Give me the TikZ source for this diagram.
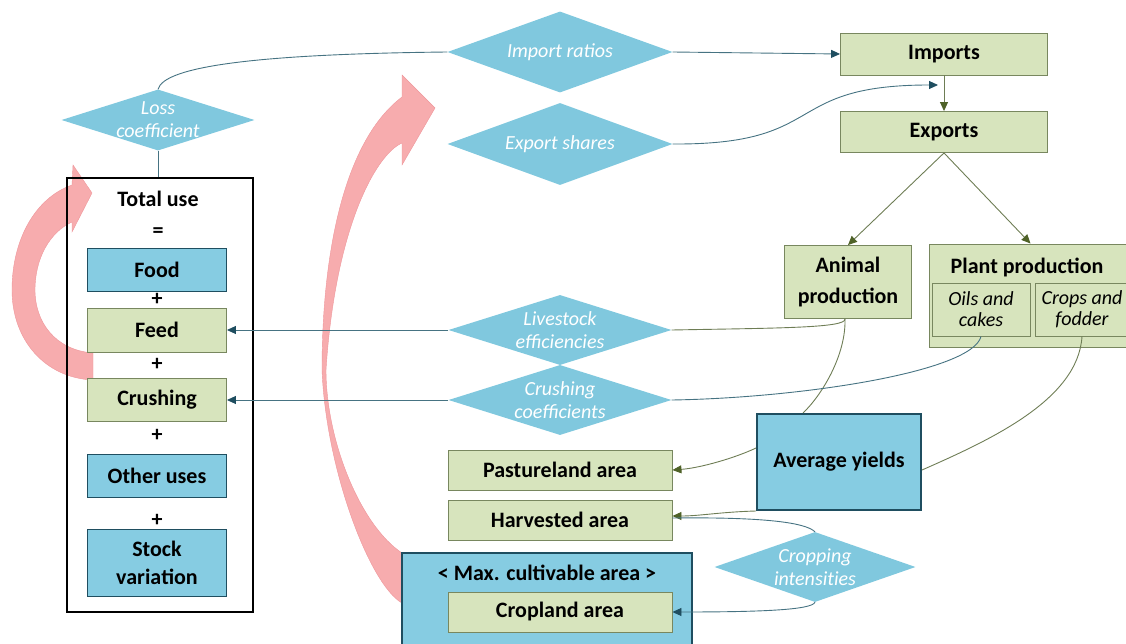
\documentclass[tikz,border=0pt]{standalone}
\usepackage{fontspec}
\setmainfont{Carlito}
\usetikzlibrary{shapes.geometric,arrows.meta}
\definecolor{dfill}{RGB}{128,200,222}
\definecolor{bfill}{RGB}{134,204,226}
\definecolor{bline}{RGB}{31,78,96}
\definecolor{gfill}{RGB}{215,228,189}
\definecolor{gline}{RGB}{120,135,95}
\definecolor{cline}{RGB}{70,115,130}
\definecolor{carrow}{RGB}{31,78,96}
\definecolor{oline}{RGB}{110,125,85}
\definecolor{oarrow}{RGB}{79,98,40}
\definecolor{pinkc}{RGB}{247,172,174}
\definecolor{pinkd}{RGB}{238,150,155}
\newcommand{\nolig}{\kern0pt}
\tikzset{
  gbox/.style={draw=gline, fill=gfill, line width=0.9pt, inner sep=0pt, align=center, font=\bfseries\fontsize{22}{29}\selectfont},
  bbox/.style={draw=bline, fill=bfill, line width=1.4pt, inner sep=0pt, align=center, font=\bfseries\fontsize{22}{28}\selectfont},
  ibox/.style={draw=gline, fill=gfill, line width=0.9pt, inner sep=0pt, align=center, font=\itshape\fontsize{20}{21}\selectfont},
  dia/.style={shape=diamond, fill=dfill, draw=none, inner sep=0pt},
  dtxt/.style={text=white, inner sep=0pt, align=center, font=\itshape\fontsize{20}{23}\selectfont},
  plain/.style={inner sep=0pt, align=center, font=\bfseries\fontsize{22}{28}\selectfont},
  bcon/.style={draw=cline, line width=0.9pt},
  barr/.style={bcon, -{Triangle[length=9pt,width=8pt,color=carrow]}},
  ocon/.style={draw=oline, line width=0.9pt},
  oarr/.style={ocon, -{Triangle[length=9pt,width=8pt,color=oarrow]}},
  pinkarrow/.style={fill=pinkc, draw=pinkd, line width=0.4pt},
}
\begin{document}
\begin{tikzpicture}[x=1pt,y=-1pt]
\useasboundingbox (0,0) rectangle (1126,644);

% pink arrows (background)
\path[pinkarrow] (93,380) -- (93,353) .. controls (55,350) and (35,322) .. (35,290)
  .. controls (35,258) and (50,232) .. (72,222) -- (72,232) -- (92,193) -- (73,165) -- (72,185)
  .. controls (35,198) and (12,240) .. (12,290) .. controls (12,340) and (45,378) .. (93,380) -- cycle;
\path[pinkarrow] (402,603) .. controls (370,585) and (326,470) .. (322,370)
  .. controls (322,250) and (345,140) .. (402,97) -- (402,75) -- (435,108) -- (402,165) -- (402,143)
  .. controls (375,155) and (335,230) .. (326,370)
  .. controls (326,440) and (360,525) .. (402,553) -- cycle;

% left column
\node[draw=black, line width=1.5pt, minimum width=186pt, minimum height=434pt, inner sep=0pt] (tot) at (160,395) {};
\node[plain] (totl) at (158,199) {Total use};
\node[plain] (eq) at (158,233) {=};
\node[bbox, minimum width=139pt, minimum height=43pt] (food) at (157,270) {Food};
\node[plain] (p1) at (157,299) {+};
\node[gbox, minimum width=139pt, minimum height=44pt] (feed) at (157,330) {Feed};
\node[plain] (p2) at (157,364) {+};
\node[gbox, minimum width=139pt, minimum height=43pt] (crush) at (157,400) {Crushing};
\node[plain] (p3) at (157,435) {+};
\node[bbox, minimum width=139pt, minimum height=43pt] (other) at (157,476) {Other uses};
\node[plain] (p4) at (157,520) {+};
\node[bbox, minimum width=139pt, minimum height=67pt] (stock) at (157,563) {Stock\\varia\nolig tion};

% diamonds
\node[dia, minimum width=193pt, minimum height=61pt] (loss) at (158,120) {};
\node[dtxt] (losst) at (loss) {Loss\\coefficient};
\node[dia, minimum width=225pt, minimum height=81pt] (ir) at (560,52) {};
\node[dtxt] (irt) at (ir) {Import ratios};
\node[dia, minimum width=225pt, minimum height=82pt] (es) at (560,144) {};
\node[dtxt] (est) at (es) {Export shares};
\node[dia, minimum width=223pt, minimum height=70pt] (ls) at (560,330) {};
\node[dtxt] (lst) at (ls) {Livestock\\efficiencies};
\node[dia, minimum width=223pt, minimum height=70pt] (cc) at (560,400) {};
\node[dtxt] (cct) at (cc) {Crushing\\coefficients};
\node[dia, minimum width=201pt, minimum height=70pt] (ci) at (815,567) {};
\node[dtxt] (cit) at (ci) {Cropping\\intensit\nolig ies};

% right boxes
\node[gbox, minimum width=207pt, minimum height=42pt] (imp) at (944,54) {Imports};
\node[gbox, minimum width=207pt, minimum height=41pt] (exp) at (944,132) {Exports};
\node[gbox, minimum width=127pt, minimum height=73pt, font=\bfseries\fontsize{22}{31}\selectfont] (an) at (848,282) {Animal\\produc\nolig tion};
\node[gbox, minimum width=203pt, minimum height=103pt] (pl) at (1030.5,295.5) {};
\node[plain] (plt) at (1027,267) {Plant produc\nolig tion};
\node[ibox, minimum width=98pt, minimum height=53pt] (oils) at (981,309.5) {Oils and\\cakes};
\node[ibox, minimum width=94pt, minimum height=53pt] (crops) at (1082,309.5) {Crops and\\fodder};
\node[bbox, line width=2pt, minimum width=164pt, minimum height=96pt] (ay) at (839,462) {Average yields};
\node[gbox, minimum width=224pt, minimum height=40pt] (pas) at (560,470) {Pastureland area};
\node[gbox, minimum width=224pt, minimum height=40pt] (harv) at (560,520) {Harvested area};
\node[bbox, minimum width=290pt, minimum height=107pt] (max) at (547,606.5) {};
\node[plain] (maxt) at (547,573) {< Max. cultivable area >};
\node[gbox, minimum width=224pt, minimum height=40pt] (crop) at (560,612) {Cropland area};

% connectors
\coordinate (ex1) at (938,85);
\draw[bcon] (loss.north) .. controls (164,66) and (260,54) .. (ir.west);
\draw[bcon] (loss.south) -- (loss.south |- tot.north);
\draw[barr] (ir.east) -- (imp.west);
\draw[barr] (es.east) .. controls (830,145) and (780,85) .. (ex1);
\draw[oarr] (imp.south) -- (exp.north);
\draw[oarr] (exp.south) -- (an.north);
\draw[oarr] (exp.south) -- (pl.north);
\draw[ocon] ([xshift=-3pt]an.south) .. controls (846,328) and (780,328) .. (ls.east);
\draw[ocon] ([xshift=-3pt]an.south) .. controls (846,355) and (822,395) .. ([xshift=-36pt]ay.north);
\draw[barr] (ls.west) -- (feed.east);
\draw[bcon] (oils.south) .. controls (972,372) and (800,398) .. (cc.east);
\draw[barr] (cc.west) -- (crush.east);
\draw[ocon] (crops.south) .. controls (1078,400) and (990,440) .. ([yshift=-8pt]ay.east);
\draw[oarr] ([yshift=14pt]ay.west) .. controls (735,458) and (700,468) .. (pas.east);
\draw[oarr] (ay.south west) .. controls (720,512) and (700,516) .. ([yshift=4pt]harv.east);
\draw[bcon] (ci.north) .. controls (805,522) and (760,517) .. ([yshift=2pt]harv.east);
\draw[barr] (ci.south) .. controls (812,610) and (760,612) .. (crop.east);
\end{tikzpicture}
\end{document}
